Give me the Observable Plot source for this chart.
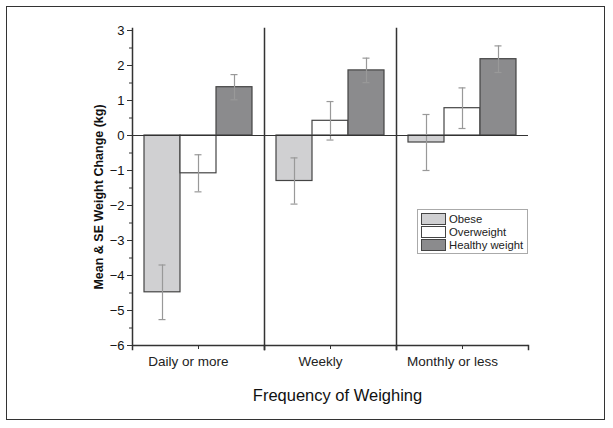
<!DOCTYPE html>
<html>
<head>
<meta charset="utf-8">
<script src="https://cdn.jsdelivr.net/npm/d3@7"></script>
<script src="https://cdn.jsdelivr.net/npm/@observablehq/plot@0.6"></script>
<style>
  html, body { margin: 0; padding: 0; background: #fff; }
  #wrap { position: relative; width: 613px; height: 428px; }
  #border { position: absolute; left: 6px; top: 6px; width: 597px; height: 412px; border: 1.5px solid #333; box-sizing: content-box; pointer-events: none; }
  #legend { position: absolute; left: 417px; top: 209px; width: 111px; height: 45px; border: 1px solid #aaa; background: #fff; font-family: "Liberation Sans", Arial, sans-serif; font-size: 11.3px; color: #222; box-sizing: border-box; padding: 2px 0 0 3px; }
  .item { display: flex; align-items: center; height: 13.4px; }
  .sw { width: 25px; height: 12px; border: 1px solid #444; margin-right: 3px; box-sizing: border-box; }
</style>
</head>
<body>
<div id="wrap">
  <div id="chart"></div>
  <div id="legend"></div>
  <div id="border"></div>
</div>
<script>
const categories = ["Daily or more", "Weekly", "Monthly or less"];
const groups = ["Obese", "Overweight", "Healthy weight"];
const colors = ["#d0d0d2", "#ffffff", "#8b8b8d"];
const obeseMean = [-4.48, -1.30, -0.20];
const obeseSE = [0.78, 0.66, 0.80];
const overweightMean = [-1.08, 0.42, 0.78];
const overweightSE = [0.53, 0.55, 0.58];
const healthyMean = [1.38, 1.86, 2.18];
const healthySE = [0.36, 0.35, 0.38];
const yTicks = [-6, -5, -4, -3, -2, -1, 0, 1, 2, 3];
const yMinorTicks = d3.range(-6, 3.01, 0.5);

const means = [obeseMean, overweightMean, healthyMean];
const ses = [obeseSE, overweightSE, healthySE];
const data = [];
categories.forEach((c, i) => {
  groups.forEach((g, j) => {
    data.push({cat: c, group: g, mean: means[j][i], lo: means[j][i] - ses[j][i], hi: means[j][i] + ses[j][i]});
  });
});

const font = "'Liberation Sans', Arial, sans-serif";

const chart = Plot.plot({
  width: 613,
  height: 428,
  marginLeft: 132,
  marginRight: 85,
  marginTop: 30,
  marginBottom: 83,
  style: {fontFamily: font, fontSize: "12px", color: "#111", background: "transparent"},
  fx: {domain: categories, paddingInner: 0, paddingOuter: 0, label: null},
  x: {domain: groups, paddingInner: 0, paddingOuter: 0.33, axis: null},
  y: {domain: [-6, 3], label: null},
  color: {domain: groups, range: colors},
  marks: [
    Plot.barY(data, {fx: "cat", x: "group", y: "mean", fill: "group", stroke: "#444", strokeWidth: 1.2}),
    Plot.ruleX(data, {fx: "cat", x: "group", y1: "lo", y2: "hi", stroke: "#999", strokeWidth: 1.2}),
    Plot.tickY(data, {fx: "cat", x: "group", y: "lo", stroke: "#999", strokeWidth: 1.2, insetLeft: 14.5, insetRight: 14.5}),
    Plot.tickY(data, {fx: "cat", x: "group", y: "hi", stroke: "#999", strokeWidth: 1.2, insetLeft: 14.5, insetRight: 14.5}),
    Plot.ruleY([0], {stroke: "#333", strokeWidth: 1.2}),
    Plot.ruleY([-6], {stroke: "#333", strokeWidth: 1.5}),
    Plot.frame({anchor: "left", stroke: "#333", strokeWidth: 1.5, insetTop: -2, insetBottom: -4}),
    Plot.frame({anchor: "right", stroke: "#333", strokeWidth: 1.5, insetTop: 315, insetBottom: -4}),
    Plot.axisY({ticks: yMinorTicks, tickSize: 3, text: null, stroke: "#333"}),
    Plot.axisY({ticks: yTicks, tickSize: 5, tickPadding: 3, fontSize: 13, stroke: "#333", fill: "#111", label: null}),
    Plot.axisFx({anchor: "bottom", tickSize: 4, text: null, stroke: "#333", label: null}),
    Plot.axisFx({anchor: "bottom", tickSize: 0, tickPadding: 11, dx: -10, fontSize: 13.5, fill: "#222", label: null}),
    Plot.text(["Mean & SE Weight Change (kg)"], {frameAnchor: "left", facet: "super", rotate: -90, textAnchor: "middle", dx: -34, dy: 9,
      fontSize: 12.5, fontWeight: "bold", fill: "#111"}),
    Plot.text(["Frequency of Weighing"], {frameAnchor: "bottom", facet: "super", dy: 55, dx: 7, fontSize: 16.5, fill: "#111"})
  ]
});
document.getElementById("chart").appendChild(chart);

const legend = document.getElementById("legend");
groups.forEach((g, i) => {
  const item = document.createElement("div");
  item.className = "item";
  const sw = document.createElement("div");
  sw.className = "sw";
  sw.style.background = colors[i];
  const t = document.createElement("span");
  t.textContent = g;
  item.appendChild(sw);
  item.appendChild(t);
  legend.appendChild(item);
});
</script>
</body>
</html>
